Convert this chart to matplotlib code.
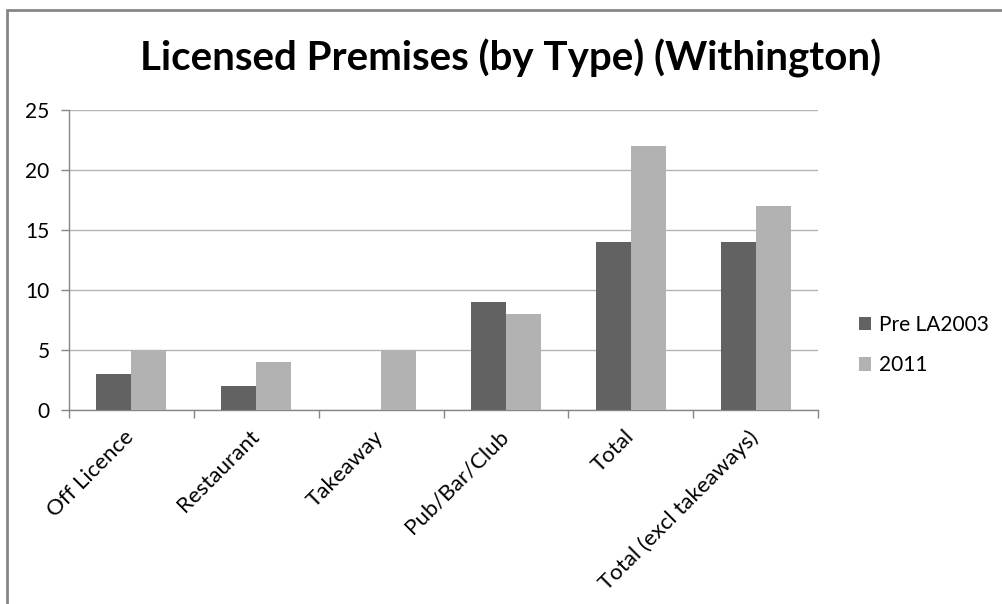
import numpy as np
import matplotlib
matplotlib.use("Agg")
import matplotlib.pyplot as plt
from matplotlib.patches import Rectangle

categories = ["Off Licence", "Restaurant", "Takeaway", "Pub/Bar/Club", "Total", "Total (excl takeaways)"]
pre_la2003 = [3, 2, 0, 9, 14, 14]
y2011 = [5, 4, 5, 8, 22, 17]
series_names = ["Pre LA2003", "2011"]

plt.rcParams['font.family'] = ['Lato', 'DejaVu Sans']

W, H = 1002, 604
fig = plt.figure(figsize=(W / 100, H / 100), dpi=100)

# outer chart frame (cropped on right/bottom)
fig.patches.append(Rectangle((7 / W, -0.1), 1.2, 1 - 10 / H + 0.1, transform=fig.transFigure,
                             fill=False, edgecolor="#868686", linewidth=2.0))

ax = fig.add_axes([69 / W, 1 - 410 / H, (818 - 69) / W, 300 / H])

x = np.arange(len(categories))
bw = 0.28
ax.bar(x - bw / 2, pre_la2003, bw, color="#626262", label=series_names[0], zorder=3)
ax.bar(x + bw / 2, y2011, bw, color="#b2b2b2", label=series_names[1], zorder=3)

ax.set_xlim(-0.5, len(categories) - 0.5)
ax.set_ylim(0, 25)
ax.set_yticks(range(0, 26, 5))
ax.yaxis.grid(True, color="#b3b3b3", linewidth=1.0, zorder=0)

# category ticks sit between groups
ax.set_xticks(np.arange(-0.5, len(categories), 1.0))
ax.set_xticklabels([])
ax.tick_params(axis="x", length=6, width=1, color="#868686", direction="out")
ax.tick_params(axis="y", length=6, width=1, color="#868686", labelsize=15, pad=8)

for i, c in enumerate(categories):
    ax.annotate(c, xy=(i - 0.06, 0), xycoords=("data", "axes fraction"),
                xytext=(0, -12), textcoords="offset points",
                rotation=45, ha="right", va="top", rotation_mode="anchor", fontsize=16)

for s in ["top", "right"]:
    ax.spines[s].set_visible(False)
for s in ["left", "bottom"]:
    ax.spines[s].set_color("#868686")
    ax.spines[s].set_linewidth(1.0)

fig.text(511 / W, 1 - 58 / H, "Licensed Premises (by Type) (Withington)",
         ha="center", va="center", fontsize=29, fontweight="bold")

ax.legend(loc="center left", bbox_to_anchor=(840 / W, 1 - 345 / H), bbox_transform=fig.transFigure,
          frameon=False, fontsize=15, handlelength=0.6, handleheight=0.6, handletextpad=0.35,
          labelspacing=1.0)

fig.savefig("out.png", dpi=100)
